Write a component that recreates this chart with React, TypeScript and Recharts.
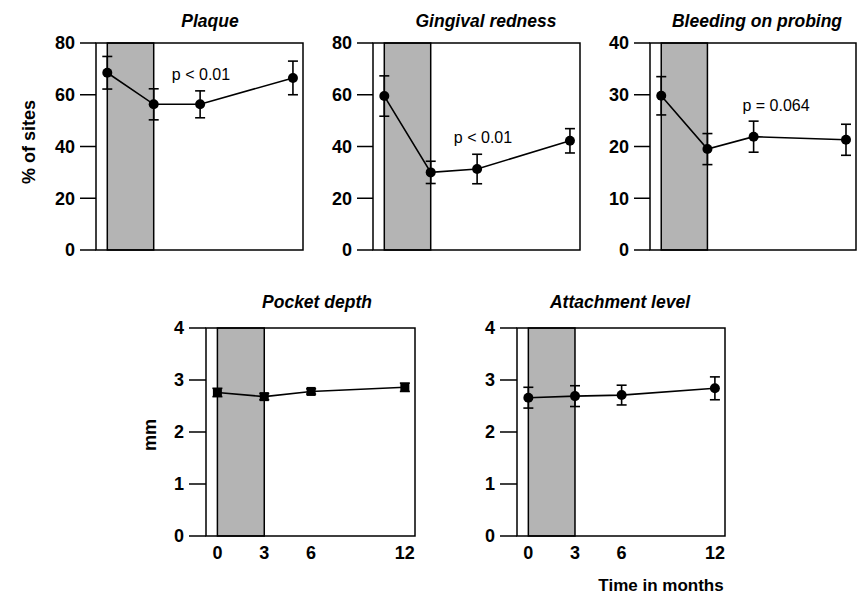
import React from "react";
import { LineChart, Line, XAxis, YAxis, ReferenceArea, ErrorBar } from "recharts";

const months = [0, 3, 6, 12];
const monthTicks = [0, 3, 6, 12];
const treatmentStart = 0;
const treatmentEnd = 3;

const plaqueMean = [68.5, 56.3, 56.3, 66.5];
const plaqueErr = [6.3, 6.0, 5.2, 6.5];
const rednessMean = [59.5, 30.0, 31.3, 42.2];
const rednessErr = [7.8, 4.3, 5.7, 4.7];
const bleedingMean = [29.8, 19.5, 21.9, 21.3];
const bleedingErr = [3.7, 3.0, 3.0, 3.0];
const pocketMean = [2.76, 2.68, 2.78, 2.86];
const pocketErr = [0.08, 0.06, 0.05, 0.08];
const attachMean = [2.66, 2.69, 2.71, 2.84];
const attachErr = [0.2, 0.2, 0.19, 0.22];

const pctTicks = [0, 20, 40, 60, 80];
const bleedTicks = [0, 10, 20, 30, 40];
const mmTicks = [0, 1, 2, 3, 4];

const titles = ["Plaque", "Gingival redness", "Bleeding on probing", "Pocket depth", "Attachment level"];
const pLabels = ["p < 0.01", "p < 0.01", "p = 0.064"];

const X_MIN = -0.73;
const X_MAX = 12.65;
const FONT = "'Liberation Sans', Arial, Helvetica, sans-serif";
const YW = 96;
const TOPM = 43;

type PanelProps = {
  left: number;
  top: number;
  w: number;
  h: number;
  mean: number[];
  err: number[];
  yMax: number;
  yTicks: number[];
  showX: boolean;
  square?: boolean;
  tickLen: number;
};

function Panel({ left, top, w, h, mean, err, yMax, yTicks, showX, square, tickLen }: PanelProps) {
  const data = months.map((m, i) => ({ month: m, value: mean[i], err: err[i] }));
  const chartW = YW + w + 4;
  const chartH = TOPM + h + (showX ? 30 : 14);
  const dot = (p: any) => {
    if (p.cx == null || p.cy == null) return <g key={`d${p.index}`} />;
    return square ? (
      <rect key={`d${p.index}`} x={p.cx - 4.5} y={p.cy - 4.5} width={9} height={9} fill="#000" />
    ) : (
      <circle key={`d${p.index}`} cx={p.cx} cy={p.cy} r={5} fill="#000" />
    );
  };
  return (
    <div style={{ position: "absolute", left: left - YW, top: top - TOPM }}>
      <LineChart
        width={chartW}
        height={chartH}
        data={data}
        margin={{ top: TOPM, right: 4, left: 0, bottom: showX ? 0 : 14 }}
      >
        <XAxis
          type="number"
          dataKey="month"
          domain={[X_MIN, X_MAX]}
          ticks={monthTicks}
          interval={0}
          hide={!showX}
          allowDataOverflow
          tickLine={false}
          axisLine={false}
          tickSize={0}
          tickMargin={10}
          height={30}
          tick={{ fill: "#000", fontSize: 18, fontWeight: 700, fontFamily: FONT }}
        />
        <YAxis
          type="number"
          domain={[0, yMax]}
          ticks={yTicks}
          interval={0}
          width={YW}
          tickSize={tickLen}
          tickMargin={5}
          axisLine={false}
          allowDataOverflow
          tickLine={{ stroke: "#000", strokeWidth: 1.5 }}
          tick={{ fill: "#000", fontSize: 18, fontWeight: 700, fontFamily: FONT }}
        />
        <ReferenceArea
          x1={treatmentStart}
          x2={treatmentEnd}
          y1={0}
          y2={yMax}
          fill="#b4b4b4"
          fillOpacity={1}
          stroke="#000"
          strokeWidth={1.5}
        />
        <ReferenceArea
          x1={X_MIN}
          x2={X_MAX}
          y1={0}
          y2={yMax}
          fill="none"
          fillOpacity={0}
          stroke="#000"
          strokeWidth={1.5}
        />
        <Line
          type="linear"
          dataKey="value"
          stroke="#000"
          strokeWidth={1.6}
          dot={dot}
          activeDot={false}
          isAnimationActive={false}
        >
          <ErrorBar dataKey="err" width={5} stroke="#000" strokeWidth={1.6} direction="y" />
        </Line>
      </LineChart>
    </div>
  );
}

export default function App() {
  const tStyle = { fontFamily: FONT, fontSize: 17.5, fontWeight: 700, fontStyle: "italic" as const, fill: "#000" };
  const pStyle = { fontFamily: FONT, fontSize: 16, fill: "#000" };
  const aStyle = { fontFamily: FONT, fontSize: 18, fontWeight: 700, fill: "#000" };
  return (
    <div style={{ position: "absolute", left: 0, top: 0, width: 858, height: 596, background: "#fff", overflow: "hidden" }}>
      <Panel left={96} top={43} w={207} h={207} mean={plaqueMean} err={plaqueErr} yMax={80} yTicks={pctTicks} showX={false} tickLen={16} />
      <Panel left={373} top={43} w={207} h={207} mean={rednessMean} err={rednessErr} yMax={80} yTicks={pctTicks} showX={false} tickLen={16} />
      <Panel left={650} top={43} w={206} h={207} mean={bleedingMean} err={bleedingErr} yMax={40} yTicks={bleedTicks} showX={false} tickLen={16} />
      <Panel left={206} top={328} w={209} h={208} mean={pocketMean} err={pocketErr} yMax={4} yTicks={mmTicks} showX={true} square tickLen={17} />
      <Panel left={517} top={328} w={208} h={208} mean={attachMean} err={attachErr} yMax={4} yTicks={mmTicks} showX={true} tickLen={17} />
      <svg width={858} height={596} style={{ position: "absolute", left: 0, top: 0, pointerEvents: "none" }}>
        <text x={210} y={27} textAnchor="middle" {...tStyle}>{titles[0]}</text>
        <text x={486} y={27} textAnchor="middle" {...tStyle}>{titles[1]}</text>
        <text x={757} y={27} textAnchor="middle" {...tStyle}>{titles[2]}</text>
        <text x={317} y={308} textAnchor="middle" {...tStyle}>{titles[3]}</text>
        <text x={620} y={308} textAnchor="middle" {...tStyle}>{titles[4]}</text>
        <text x={201} y={80} textAnchor="middle" {...pStyle}>{pLabels[0]}</text>
        <text x={483} y={143} textAnchor="middle" {...pStyle}>{pLabels[1]}</text>
        <text x={776} y={111} textAnchor="middle" {...pStyle}>{pLabels[2]}</text>
        <text x={35} y={142} textAnchor="middle" transform="rotate(-90 35 142)" {...aStyle}>% of sites</text>
        <text x={156} y={435} textAnchor="middle" transform="rotate(-90 156 435)" {...aStyle}>mm</text>
        <text x={661} y={591} textAnchor="middle" fontFamily={FONT} fontSize={17} fontWeight={700} fill="#000">Time in months</text>
      </svg>
    </div>
  );
}
